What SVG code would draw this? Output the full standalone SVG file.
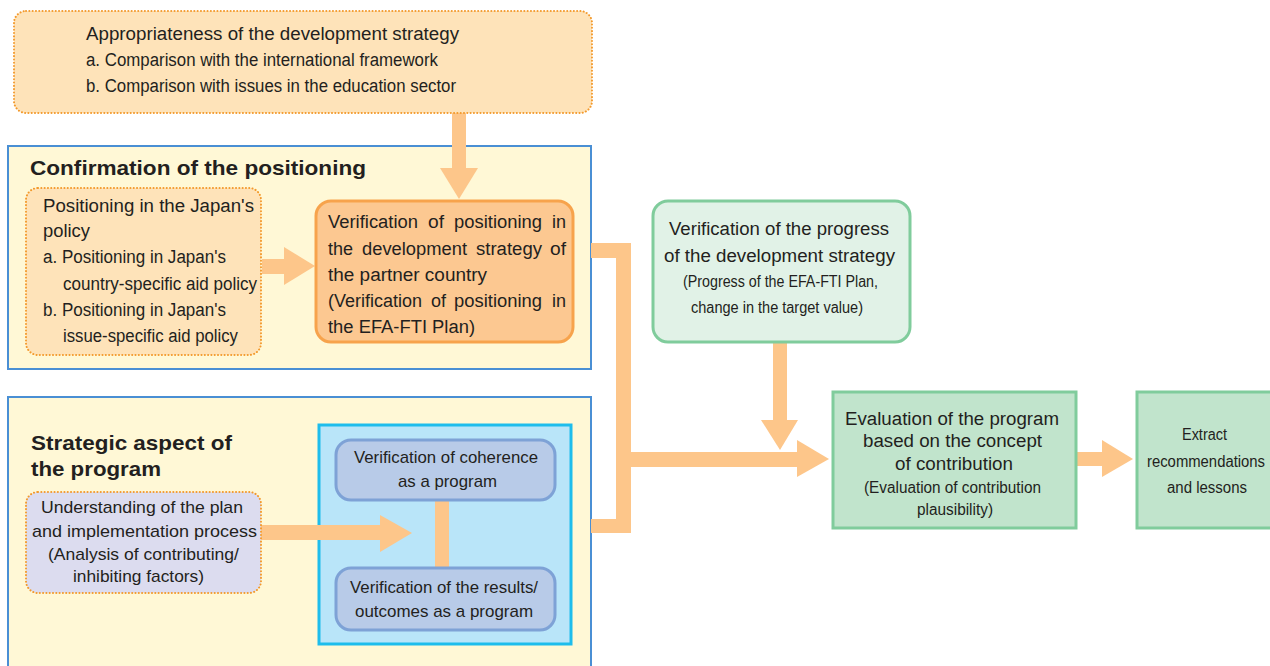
<svg xmlns="http://www.w3.org/2000/svg" width="1270" height="666" viewBox="0 0 1270 666">
  <style>
    text { font-family: "Liberation Sans", Arial, sans-serif; fill: #231f20; }
    .t18 { font-size: 18px; }
    .t17 { font-size: 17px; }
    .t16 { font-size: 16px; }
    .title { font-size: 21px; font-weight: bold; }
    .dotted { stroke: #f39a2d; stroke-width: 2; stroke-dasharray: 0.1 3.2; stroke-linecap: round; }
    .frame { fill: #fff8d6; stroke: #4a8fd4; stroke-width: 2; }
    .flow { fill: #fdc68a; }
    .green { stroke: #80cc9c; stroke-width: 3; }
    .bluebox { fill: #b8cbe8; stroke: #7ea2d6; stroke-width: 3; }
  </style>

  <!-- background panels -->
  <g id="confirmation-panel">
    <rect class="frame" x="8" y="146" width="583" height="223"/>
    <text class="title" x="30" y="175" textLength="336" lengthAdjust="spacingAndGlyphs">Confirmation of the positioning</text>
  </g>
  <g id="strategic-panel">
    <rect class="frame" x="8" y="397" width="583" height="300"/>
    <text class="title" x="31" y="450" textLength="201" lengthAdjust="spacingAndGlyphs">Strategic aspect of</text>
    <text class="title" x="31" y="476" textLength="130" lengthAdjust="spacingAndGlyphs">the program</text>
  </g>
  <g id="program-panel">
    <rect x="319" y="425" width="252" height="219" fill="#b9e5f9" stroke="#1ebdec" stroke-width="3"/>
  </g>

  <!-- connectors -->
  <g id="connectors">
    <!-- strategy -> positioning -->
    <rect class="flow" x="452" y="113" width="14" height="56"/>
    <polygon class="flow" points="440,168 478,168 459,199"/>
    <!-- policy -> positioning -->
    <rect class="flow" x="262" y="259" width="23" height="15"/>
    <polygon class="flow" points="284,247 284,285 315,266"/>
    <!-- understanding -> program box -->
    <rect class="flow" x="261" y="525" width="120" height="15"/>
    <polygon class="flow" points="380,515 380,552 412,533"/>
    <!-- coherence / results link -->
    <rect class="flow" x="435" y="500" width="14" height="68"/>
    <!-- bracket joining both panels -->
    <rect class="flow" x="591" y="243" width="40" height="15"/>
    <rect class="flow" x="616" y="243" width="15" height="290"/>
    <rect class="flow" x="591" y="519" width="40" height="14"/>
    <rect class="flow" x="631" y="452" width="167" height="15"/>
    <polygon class="flow" points="797,440 797,477 829,459"/>
    <!-- progress -> evaluation -->
    <rect class="flow" x="773" y="342" width="14" height="79"/>
    <polygon class="flow" points="761,420 798,420 780,450"/>
    <!-- evaluation -> extract -->
    <rect class="flow" x="1076" y="452" width="27" height="14"/>
    <polygon class="flow" points="1102,440 1102,477 1133,459"/>
  </g>

  <!-- nodes -->
  <g id="node-appropriateness">
    <rect class="dotted" x="14" y="11" width="578" height="102" rx="12" fill="#fee3b9"/>
    <text class="t18" x="86" y="40" textLength="373" lengthAdjust="spacingAndGlyphs">Appropriateness of the development strategy</text>
    <text class="t18" x="86" y="66" textLength="352" lengthAdjust="spacingAndGlyphs">a. Comparison with the international framework</text>
    <text class="t18" x="86" y="92" textLength="370" lengthAdjust="spacingAndGlyphs">b. Comparison with issues in the education sector</text>
  </g>

  <g id="node-japan-policy">
    <rect class="dotted" x="26" y="188" width="235" height="167" rx="12" fill="#fee3b9"/>
    <text class="t18" x="43" y="212" textLength="211" lengthAdjust="spacingAndGlyphs">Positioning in the Japan's</text>
    <text class="t18" x="43" y="237" textLength="47" lengthAdjust="spacingAndGlyphs">policy</text>
    <text class="t18" x="43" y="263" textLength="183" lengthAdjust="spacingAndGlyphs">a. Positioning in Japan's</text>
    <text class="t18" x="63" y="290" textLength="194" lengthAdjust="spacingAndGlyphs">country-specific aid policy</text>
    <text class="t18" x="43" y="316" textLength="183" lengthAdjust="spacingAndGlyphs">b. Positioning in Japan's</text>
    <text class="t18" x="63" y="342" textLength="175" lengthAdjust="spacingAndGlyphs">issue-specific aid policy</text>
  </g>

  <g id="node-positioning">
    <rect x="316" y="201" width="257" height="141" rx="15" fill="#fcc891" stroke="#f7a34c" stroke-width="3"/>
    <!-- justified paragraph: words placed one by one -->
    <g class="t18">
      <text x="328" y="228" textLength="90" lengthAdjust="spacingAndGlyphs">Verification</text>
      <text x="428" y="228" textLength="16" lengthAdjust="spacingAndGlyphs">of</text>
      <text x="454" y="228" textLength="88" lengthAdjust="spacingAndGlyphs">positioning</text>
      <text x="552" y="228" textLength="14" lengthAdjust="spacingAndGlyphs">in</text>
      <text x="328" y="255" textLength="25" lengthAdjust="spacingAndGlyphs">the</text>
      <text x="362" y="255" textLength="105" lengthAdjust="spacingAndGlyphs">development</text>
      <text x="476" y="255" textLength="66" lengthAdjust="spacingAndGlyphs">strategy</text>
      <text x="550" y="255" textLength="16" lengthAdjust="spacingAndGlyphs">of</text>
      <text x="328" y="281" textLength="159" lengthAdjust="spacingAndGlyphs">the partner country</text>
      <text x="328" y="307" textLength="94" lengthAdjust="spacingAndGlyphs">(Verification</text>
      <text x="431" y="307" textLength="15" lengthAdjust="spacingAndGlyphs">of</text>
      <text x="454" y="307" textLength="88" lengthAdjust="spacingAndGlyphs">positioning</text>
      <text x="552" y="307" textLength="14" lengthAdjust="spacingAndGlyphs">in</text>
      <text x="328" y="333" textLength="147" lengthAdjust="spacingAndGlyphs">the EFA-FTI Plan)</text>
    </g>
  </g>

  <g id="node-understanding">
    <rect class="dotted" x="26" y="492" width="235" height="101" rx="12" fill="#dcdcef"/>
    <text class="t17" x="41" y="513" textLength="202" lengthAdjust="spacingAndGlyphs">Understanding of the plan</text>
    <text class="t17" x="32" y="537" textLength="225" lengthAdjust="spacingAndGlyphs">and implementation process</text>
    <text class="t17" x="48" y="560" textLength="191" lengthAdjust="spacingAndGlyphs">(Analysis of contributing/</text>
    <text class="t17" x="73" y="582" textLength="131" lengthAdjust="spacingAndGlyphs">inhibiting factors)</text>
  </g>

  <g id="node-coherence">
    <rect class="bluebox" x="336" y="440" width="219" height="60" rx="15"/>
    <text class="t17" x="354" y="463" textLength="184" lengthAdjust="spacingAndGlyphs">Verification of coherence</text>
    <text class="t17" x="398" y="487" textLength="99" lengthAdjust="spacingAndGlyphs">as a program</text>
  </g>

  <g id="node-results">
    <rect class="bluebox" x="336" y="568" width="219" height="62" rx="15"/>
    <text class="t17" x="350" y="593" textLength="188" lengthAdjust="spacingAndGlyphs">Verification of the results/</text>
    <text class="t17" x="355" y="617" textLength="178" lengthAdjust="spacingAndGlyphs">outcomes as a program</text>
  </g>

  <g id="node-progress">
    <rect class="green" x="653" y="201" width="257" height="141" rx="15" fill="#e1f2e7"/>
    <text class="t18" x="669" y="235" textLength="220" lengthAdjust="spacingAndGlyphs">Verification of the progress</text>
    <text class="t18" x="664" y="262" textLength="231" lengthAdjust="spacingAndGlyphs">of the development strategy</text>
    <text class="t16" x="683" y="287" textLength="195" lengthAdjust="spacingAndGlyphs">(Progress of the EFA-FTI Plan,</text>
    <text class="t16" x="691" y="313" textLength="172" lengthAdjust="spacingAndGlyphs">change in the target value)</text>
  </g>

  <g id="node-evaluation">
    <rect class="green" x="833" y="392" width="243" height="136" fill="#c1e4cc"/>
    <text class="t18" x="845" y="425" textLength="214" lengthAdjust="spacingAndGlyphs">Evaluation of the program</text>
    <text class="t18" x="863" y="447" textLength="179" lengthAdjust="spacingAndGlyphs">based on the concept</text>
    <text class="t18" x="895" y="470" textLength="118" lengthAdjust="spacingAndGlyphs">of contribution</text>
    <text class="t16" x="864" y="493" textLength="177" lengthAdjust="spacingAndGlyphs">(Evaluation of contribution</text>
    <text class="t16" x="917" y="515" textLength="76" lengthAdjust="spacingAndGlyphs">plausibility)</text>
  </g>

  <g id="node-extract">
    <rect class="green" x="1137" y="392" width="140" height="136" fill="#c1e4cc"/>
    <text class="t16" x="1182" y="440" textLength="45" lengthAdjust="spacingAndGlyphs">Extract</text>
    <text class="t16" x="1147" y="467" textLength="118" lengthAdjust="spacingAndGlyphs">recommendations</text>
    <text class="t16" x="1167" y="493" textLength="80" lengthAdjust="spacingAndGlyphs">and lessons</text>
  </g>
</svg>
